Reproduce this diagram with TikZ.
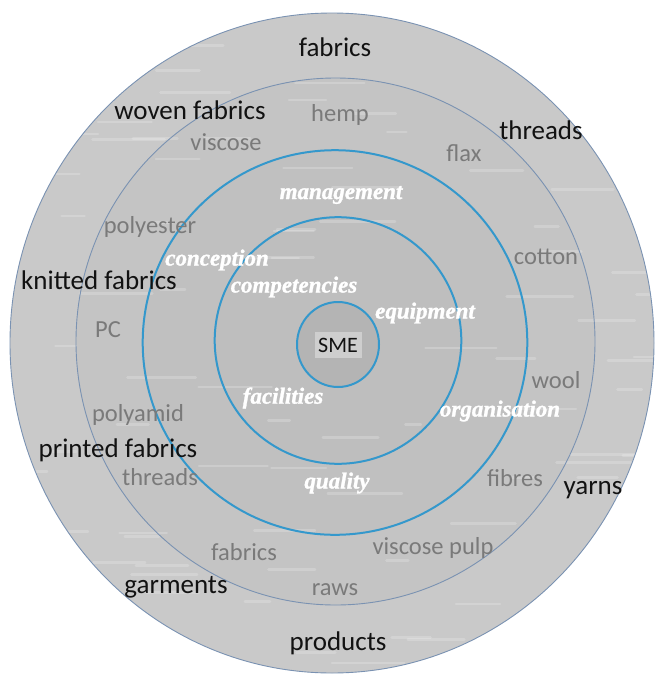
\documentclass[tikz,border=0pt]{standalone}
\usepackage{fontspec}
\setmainfont{Carlito}
\newfontfamily\accentfont{Liberation Serif Bold Italic}[FakeBold=1.3]
\definecolor{ringA}{RGB}{201,201,201}
\definecolor{ringB}{RGB}{196,196,196}
\definecolor{ringC}{RGB}{192,192,192}
\definecolor{ringD}{RGB}{190,190,190}
\definecolor{coreFill}{RGB}{180,180,180}
\definecolor{smeBox}{RGB}{206,206,206}
\definecolor{steel}{RGB}{122,146,178}
\definecolor{cyanline}{RGB}{52,152,204}
\definecolor{darktext}{RGB}{18,18,18}
\definecolor{softtext}{RGB}{122,122,122}
\begin{document}
\begin{tikzpicture}[x=1pt,y=-1pt,
  outerlabel/.style={font=\fontsize{27}{29}\selectfont, text=darktext, inner sep=0pt},
  materiallabel/.style={font=\fontsize{24.5}{26}\selectfont, text=softtext, inner sep=0pt},
  corelabel/.style={font=\accentfont\fontsize{23}{25}\selectfont, text=white, inner sep=0pt},
  thinring/.style={draw=steel, line width=0.9pt},
  boldring/.style={draw=cyanline, line width=2pt}]
\useasboundingbox (0,0) rectangle (655,675);

% layered discs
\fill[ringA] (332,343) ellipse [x radius=322, y radius=330];
\fill[ringB] (335.5,341.5) ellipse [x radius=259.5, y radius=263.5];
\fill[ringC] (335,342.5) circle [radius=192.3];
\fill[ringD] (338,340.5) circle [radius=123.3];
\fill[coreFill] (338,344.5) ellipse [x radius=41, y radius=42.5];

% brushed streaks
\begin{scope}
  \clip (332,343) ellipse [x radius=322, y radius=330];
  \pgfmathsetseed{42}
  \foreach \k in {1,...,90}{
    \pgfmathsetmacro\sx{rnd*640}
    \pgfmathsetmacro\sy{rnd*675}
    \pgfmathsetmacro\sl{15+rnd*60}
    \draw[white, opacity=0.2, line width=2.6pt, line cap=round] (\sx,\sy) -- ++(\sl,0);
  }
\end{scope}

% ring outlines
\draw[thinring] (332,343) ellipse [x radius=322, y radius=330];
\draw[thinring] (335.5,341.5) ellipse [x radius=259.5, y radius=263.5];
\draw[boldring] (335,342.5) circle [radius=192.3];
\draw[boldring] (338,340.5) circle [radius=123.3];
\draw[boldring] (338,344.5) ellipse [x radius=41, y radius=42.5];

% centre
\node[fill=smeBox, text=darktext, font=\fontsize{22}{24}\selectfont, minimum width=47pt, minimum height=26pt, inner sep=0pt] (sme) at (338,345) {SME};

% outer ring: products
\node[outerlabel] (fabricsTop) at (335,47) {fabrics};
\node[outerlabel] (woven) at (190,110) {woven fabrics};
\node[outerlabel] (threadsTop) at (541,130) {threads};
\node[outerlabel] (knitted) at (99,280) {knitted fabrics};
\node[outerlabel] (printed) at (118,450) {printed fabrics};
\node[outerlabel] (yarns) at (593,490) {yarns};
\node[outerlabel] (garments) at (176,587) {garments};
\node[outerlabel] (products) at (338,643) {products};

% second ring: materials
\node[materiallabel] (hemp) at (340,115) {hemp};
\node[materiallabel] (viscose) at (226,142) {viscose};
\node[materiallabel] (flax) at (464,153) {flax};
\node[materiallabel] (polyester) at (150,227) {polyester};
\node[materiallabel] (cotton) at (546,257) {cotton};
\node[materiallabel] (pc) at (108,330) {PC};
\node[materiallabel] (wool) at (556,380) {wool};
\node[materiallabel] (polyamid) at (138,415) {polyamid};
\node[materiallabel] (threadsLow) at (160,477) {threads};
\node[materiallabel] (fibres) at (515,478) {fibres};
\node[materiallabel] (fabricsLow) at (244,552) {fabrics};
\node[materiallabel] (pulp) at (433,548) {viscose pulp};
\node[materiallabel] (raws) at (335,590) {raws};

% inner rings: capabilities
\node[corelabel] (management) at (341,195) {management};
\node[corelabel] (conception) at (217,260) {conception};
\node[corelabel] (competencies) at (294,287) {competencies};
\node[corelabel] (equipment) at (425,313) {equipment};
\node[corelabel] (facilities) at (283,398) {facilities};
\node[corelabel] (organisation) at (500,411) {organisation};
\node[corelabel] (quality) at (337,483) {quality};
\end{tikzpicture}
\end{document}
